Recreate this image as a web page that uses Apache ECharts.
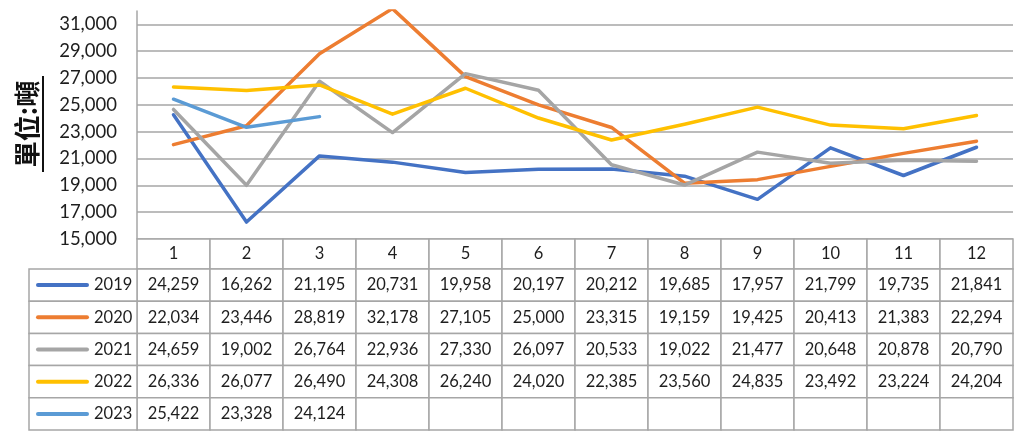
<!DOCTYPE html>
<html><head><meta charset="utf-8">
<script src="https://cdn.jsdelivr.net/npm/echarts@6/dist/echarts.min.js"></script>
<style>html,body{margin:0;padding:0;background:#fff}#c{width:1024px;height:444px}</style>
</head><body><div id="c"></div>
<script>
const months = ['1','2','3','4','5','6','7','8','9','10','11','12'];
const years = ['2019','2020','2021','2022','2023'];
const y2019 = [24259,16262,21195,20731,19958,20197,20212,19685,17957,21799,19735,21841];
const y2020 = [22034,23446,28819,32178,27105,25000,23315,19159,19425,20413,21383,22294];
const y2021 = [24659,19002,26764,22936,27330,26097,20533,19022,21477,20648,20878,20790];
const y2022 = [26336,26077,26490,24308,26240,24020,22385,23560,24835,23492,23224,24204];
const y2023 = [25422,23328,24124];
const colors = ['#4472C4','#ED7D31','#A5A5A5','#FFC000','#5B9BD5'];
const yTitle = '單位:噸';

const allSeries = [y2019,y2020,y2021,y2022,y2023];
const FONT = 'Lato, "Liberation Sans", sans-serif';
const TXT = '#1e1e1e';
const BORDER = '#a6a6a6';
const fmt = v => v.toLocaleString('en-US');

// header cells
const headerCells = months.map((m,i)=>({x:i,y:0,text:m}));
// data cells
const dataCells = [];
allSeries.forEach((arr,r)=>{
  months.forEach((m,c)=>{
    dataCells.push({x:c,y:r,text: arr[c]!=null ? fmt(arr[c]) : ''});
  });
});
const legendCells = years.map((yr,r)=>({x:0,y:r,text:yr,color:colors[r]}));

function cellRenderer(cells, isLegend){
  return function(params, api){
    const cell = cells[params.dataIndex];
    const c = api.coord([cell.x, cell.y]);
    const s = api.size([1,1]);
    const x0 = c[0]-s[0]/2, y0 = c[1]-s[1]/2;
    const children = [{
      type:'rect',
      shape:{x:x0,y:y0,width:s[0],height:s[1]},
      style:{fill:'#fff',stroke:BORDER,lineWidth:1.5}
    }];
    if (isLegend){
      children.push({
        type:'text', x:x0+7, y:c[1],
        style:{
          text:'{l|}{t|'+cell.text+'}',
          verticalAlign:'middle', align:'left',
          rich:{
            l:{width:53,height:4,backgroundColor:cell.color,borderRadius:2},
            t:{fontFamily:FONT,fontSize:16.5,fill:TXT,padding:[0,0,0,5]}
          }
        }
      });
    } else {
      children.push({
        type:'text', x:c[0], y:c[1],
        style:{text:cell.text,align:'center',verticalAlign:'middle',fontFamily:FONT,fontSize:16.5,fill:TXT}
      });
    }
    return {type:'group',children:children};
  };
}

const chart = echarts.init(document.getElementById('c'), null, {renderer:'canvas'});
const splitColors = [];
for (let i=0;i<9;i++) splitColors.push(BORDER);
splitColors.push('rgba(0,0,0,0)');

const option = {
  animation:false,
  backgroundColor:'#fff',
  grid:[
    {left:137,right:11,top:11,height:228},
    {left:137,right:11,top:239,height:30},
    {left:137,right:11,top:269,height:161},
    {left:29,width:108,top:269,height:161}
  ],
  xAxis:[
    {gridIndex:0,type:'category',data:months,boundaryGap:true,axisLabel:{show:false},axisLine:{show:false},axisTick:{show:false}},
    {gridIndex:1,type:'category',data:months,show:false},
    {gridIndex:2,type:'category',data:months,show:false},
    {gridIndex:3,type:'category',data:['legend'],show:false}
  ],
  yAxis:[
    {gridIndex:0,type:'value',min:15000,max:32000,interval:2000,
     axisLine:{show:true,lineStyle:{color:BORDER,width:1.5}},
     axisTick:{show:false},
     axisLabel:{margin:20,fontFamily:FONT,fontSize:18.5,color:TXT,
       formatter:v=> v>=32000 ? '' : fmt(v)},
     splitLine:{show:true,lineStyle:{color:splitColors,width:1.5}}},
    {gridIndex:1,type:'category',data:['h'],show:false,inverse:true},
    {gridIndex:2,type:'category',data:years,show:false,inverse:true},
    {gridIndex:3,type:'category',data:years,show:false,inverse:true}
  ],
  series:[
    ...allSeries.map((arr,i)=>({
      type:'line',name:years[i],data:arr,xAxisIndex:0,yAxisIndex:0,
      showSymbol:false,symbol:'none',
      lineStyle:{color:colors[i],width:3.5,cap:'round',join:'round'},
      itemStyle:{color:colors[i]},
      clip:true, z:2+i
    })),
    {type:'custom',xAxisIndex:1,yAxisIndex:1,data:headerCells.map(c=>[c.x,c.y]),renderItem:cellRenderer(headerCells,false),z:1},
    {type:'custom',xAxisIndex:2,yAxisIndex:2,data:dataCells.map(c=>[c.x,c.y]),renderItem:cellRenderer(dataCells,false),z:1},
    {type:'custom',xAxisIndex:3,yAxisIndex:3,data:legendCells.map(c=>[c.x,c.y]),renderItem:cellRenderer(legendCells,true),z:1}
  ],
  graphic:[
    {type:'text',x:27,y:124,rotation:Math.PI/2,
     style:{text:yTitle,align:'center',verticalAlign:'middle',
       font:'bold 26px "Noto Sans CJK TC", sans-serif',fill:'#111'}},
    {type:'line',shape:{x1:43,y1:76,x2:43,y2:172},style:{stroke:'#111',lineWidth:2}}
  ]
};
chart.setOption(option);
</script></body></html>
